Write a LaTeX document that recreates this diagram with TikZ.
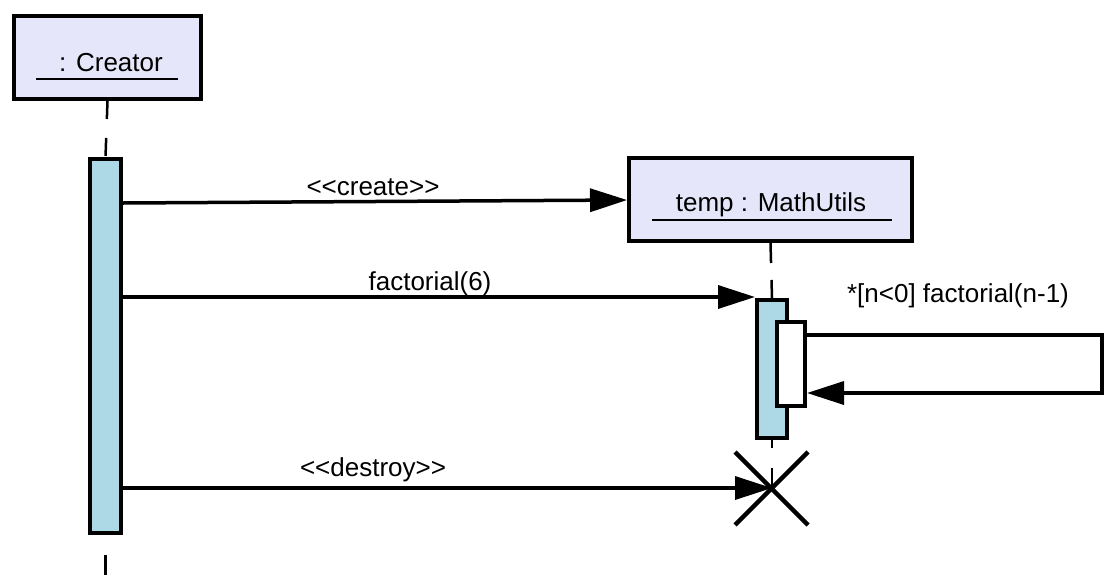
\documentclass[tikz,border=0pt]{standalone}
\usepackage{fontspec}
\setmainfont{Liberation Sans}
\usetikzlibrary{arrows.meta,calc}
\definecolor{boxfill}{RGB}{230,230,250}
\definecolor{actfill}{RGB}{173,216,230}
\begin{document}
\begin{tikzpicture}[x=1pt,y=-1pt,
  objbox/.style={draw=black,line width=4pt,fill=boxfill,rectangle,inner sep=0pt},
  actbar/.style={draw=black,line width=4pt,fill=actfill,rectangle,inner sep=0pt},
  nestbar/.style={draw=black,line width=4pt,fill=white,rectangle,inner sep=0pt},
  lbl/.style={font=\fontsize{26}{30}\selectfont,anchor=base,inner sep=0pt},
  uline/.style={line width=2pt},
  msg/.style={line width=3.5pt,-{Triangle[length=37pt,width=23pt]}},
  lifeline/.style={line width=2.5pt},
  xmark/.style={line width=4.5pt}]
\useasboundingbox (0,0) rectangle (1111,576);
% object boxes
\node[objbox,minimum width=187pt,minimum height=83pt] (creator) at (107.5,57.5) {};
\node[lbl] (creatorlbl) at (111,71) {: Creator};
\draw[uline] (36,79) -- (178,79);
\node[objbox,minimum width=283pt,minimum height=83pt] (math) at (770.5,199.5) {};
\node[lbl] (mathlbl) at (771,211.5) {temp : MathUtils};
\draw[uline] (652,220) -- (892,220);
% lifeline ends
\coordinate (endC) at (105.5,575);
\coordinate (xc) at (772,488);
% activations
\node[actbar,minimum width=31pt,minimum height=374pt] (actC) at (105.5,346) {};
\node[actbar,minimum width=30pt,minimum height=138pt] (actM) at (772,369) {};
\node[nestbar,minimum width=28pt,minimum height=84pt] (actN) at (791,364) {};
% lifelines
\draw[lifeline,dash pattern=on 18pt off 19pt] (creator.south) -- (actC.north);
\draw[lifeline,dash pattern=on 20pt off 20pt,dash phase=20pt] (actC.south) -- (endC);
\draw[lifeline,dash pattern=on 20pt off 17pt] (math.south) -- (actM.north);
\draw[lifeline,dash pattern=on 18pt off 20pt,dash phase=10pt] (actM.south) -- (xc);
% y levels
\coordinate (yCr) at (0,203);
\coordinate (yCrE) at (0,200);
\coordinate (yFa) at (0,297);
\coordinate (ySelf1) at (0,335);
\coordinate (ySelf2) at (0,393);
\coordinate (selfR) at (1102,0);
% messages
\draw[msg] (actC.east |- yCr) -- (math.west |- yCrE);
\node[lbl] (createlbl) at (373,195) {{<}{<}create{>}{>}};
\draw[msg] (actC.east |- yFa) -- (actM.west |- yFa);
\node[lbl] (faclbl) at (430,290) {factorial(6)};
\draw[msg] (actN.east |- ySelf1) -- (selfR |- ySelf1) -- (selfR |- ySelf2) -- (actN.east |- ySelf2);
\node[lbl] (selflbl) at (958,302) {*[n<0] factorial(n-1)};
\draw[msg] (actC.east |- xc) -- (xc);
\node[lbl] (destroylbl) at (373,476) {{<}{<}destroy{>}{>}};
% destroy mark
\draw[xmark] ($(xc)+(-37,-36)$) -- ($(xc)+(36,37)$);
\draw[xmark] ($(xc)+(-37,37)$) -- ($(xc)+(36,-36)$);
\end{tikzpicture}
\end{document}
